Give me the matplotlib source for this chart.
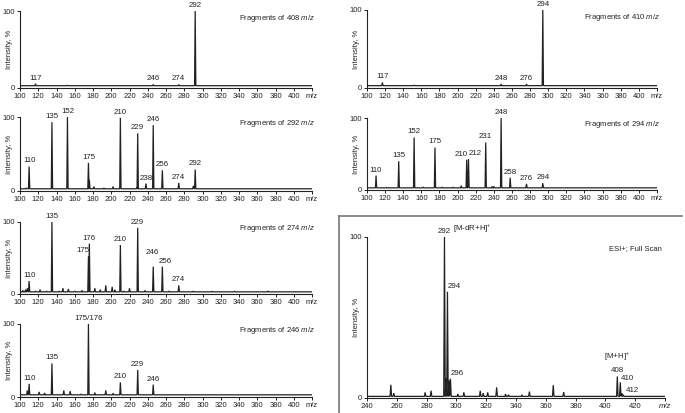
import matplotlib
matplotlib.use('Agg')
import matplotlib.pyplot as plt
from matplotlib.lines import Line2D

plt.rcParams['font.family'] = ['Liberation Sans', 'DejaVu Sans']
plt.rcParams['mathtext.fontset'] = 'custom'
plt.rcParams['mathtext.rm'] = 'Liberation Sans'
plt.rcParams['mathtext.it'] = 'Liberation Sans:italic'

# ---------------- data ----------------
# Fragments of 408 m/z
f408_mz = [117, 152, 246, 274, 292]
f408_int = [5.5, 3.5, 4.5, 4.5, 100]
# Fragments of 410 m/z
f410_mz = [117, 152, 248, 276, 294]
f410_int = [7, 3.5, 5, 5, 100]
# Fragments of 292 m/z
f292_mz = [107, 110, 135, 152, 175, 176, 181, 192, 202, 210, 228, 229, 238, 246, 256, 274, 290, 292]
f292_int = [4, 33, 93, 100, 38, 15, 6, 4, 6, 99, 5, 78, 10, 89, 28, 11, 7, 29]
# Fragments of 294 m/z
f294_mz = [110, 122, 135, 152, 162, 175, 183, 195, 204, 210, 212, 231, 238, 240, 248, 258, 276, 294]
f294_int = [20, 3.5, 40, 73, 4, 59, 4, 4, 6, 42, 43, 66, 5, 5, 100, 17, 8.5, 9.5]
# Fragments of 274 m/z
f274_mz = [103, 106, 108, 110, 117, 122, 129, 135, 143, 147, 153, 160, 168, 175, 176, 182, 188,
           194, 201, 204, 210, 214, 220, 229, 237, 246, 256, 263, 274, 290, 310, 335, 372]
f274_int = [5, 6, 8, 18, 4, 6, 4, 100, 4, 8, 7, 4, 5, 52, 70, 8, 6,
            12, 10, 6, 68, 4, 8, 92, 5, 38, 38, 4, 12, 4, 3.8, 3.8, 4.2]
# Fragments of 246 m/z
f246_mz = [108, 110, 121, 127, 135, 148, 155, 167, 175, 182, 194, 202, 210, 229, 246]
f246_int = [9, 18, 7, 5.5, 46, 9, 8, 4, 100, 6, 9, 5, 20, 37, 17]
# ESI+ full scan
full_mz = [256, 258, 279, 283, 292, 293, 294, 295, 296, 301, 305, 316, 318, 321, 327, 333, 335,
           344, 349, 365, 372, 408, 410, 411, 412]
full_int = [8.2, 3, 3.5, 4.5, 100, 12, 66, 11, 12, 2.5, 3.5, 4.5, 3, 3.5, 6.6, 2.5, 2,
            2, 4, 8, 3.7, 13.4, 9.7, 3, 2]

frag_ticks = list(range(100, 421, 20))
full_ticks = list(range(240, 441, 20))

# ---------------- helpers ----------------
W, H = 685, 413
fig = plt.figure(figsize=(W / 100, H / 100), dpi=100)
LC = '#222222'


def rect(x0, ytop, x1, ybot):
    return [x0 / W, 1 - ybot / H, (x1 - x0) / W, (ybot - ytop) / H]


def trace(mz, inten, xmin, xmax, base, w):
    pairs = sorted(zip(mz, inten))
    xs, ys = [xmin], [base]
    for m, h in pairs:
        xs += [m - w, m, m + w]
        ys += [base, h, base]
    xs.append(xmax)
    ys.append(base)
    return xs, ys


def setup(ax, ticks, last_label_italic=False):
    ax.set_xlim(ticks[0], ticks[-1])
    ax.set_ylim(0, 100)
    for s in ('top', 'right'):
        ax.spines[s].set_visible(False)
    for s in ('left', 'bottom'):
        ax.spines[s].set_linewidth(0.8)
        ax.spines[s].set_color(LC)
    ax.set_xticks(ticks)
    labels = [str(t) for t in ticks[:-1]] + ['m/z']
    ax.set_xticklabels(labels)
    if last_label_italic:
        ax.get_xticklabels()[-1].set_style('italic')
    ax.set_yticks([0, 100])
    ax.tick_params(axis='both', labelsize=5.5, length=2.5, width=0.7, pad=1, colors=LC)
    ax.set_ylabel('Intensity, %', fontsize=5.5, color=LC)
    wpx = ax.get_position().width * W
    ax.yaxis.set_label_coords(-7 / wpx, 0.5)


def draw(ax, mz, inten, ticks, base, w, title, labels, title_x=1.01):
    xs, ys = trace(mz, inten, ticks[0], ticks[-1], base, w)
    ax.plot(xs, ys, color=LC, lw=0.9, solid_joinstyle='miter')
    if title:
        ax.text(title_x, 0.98, title, transform=ax.transAxes, ha='right', va='top',
                fontsize=5.5, color=LC)
    lookup = dict(zip(mz, inten))
    for m, txt, ha, dx, dy in labels:
        ax.annotate(txt, (m, lookup[m]), xytext=(dx, dy), textcoords='offset points',
                    ha=ha, va='bottom', fontsize=5.7, color=LC, annotation_clip=False)


def std(ms):
    return [(m, str(m), 'center', 0, 1.5) for m in ms]


# ---------------- panels ----------------
ax1 = fig.add_axes(rect(20, 11, 312, 88))
setup(ax1, frag_ticks)
draw(ax1, f408_mz, f408_int, frag_ticks, 3, 0.7, r'Fragments of 408 $\mathit{m/z}$',
     std([117, 246, 274, 292]))

ax2 = fig.add_axes(rect(367, 10, 657, 88))
setup(ax2, frag_ticks)
draw(ax2, f410_mz, f410_int, frag_ticks, 3, 0.7, r'Fragments of 410 $\mathit{m/z}$',
     std([117, 248, 276, 294]))

ax3 = fig.add_axes(rect(20, 117, 312, 191))
setup(ax3, frag_ticks)
draw(ax3, f292_mz, f292_int, frag_ticks, 3, 0.7, r'Fragments of 292 $\mathit{m/z}$',
     std([110, 135, 152, 175, 210, 229, 238, 246, 256, 274, 292]))

ax4 = fig.add_axes(rect(367, 118, 657, 190))
setup(ax4, frag_ticks)
draw(ax4, f294_mz, f294_int, frag_ticks, 3, 0.7, r'Fragments of 294 $\mathit{m/z}$',
     std([110, 135, 152, 175, 231, 248, 258, 276, 294])
     + [(210, '210', 'right', 1, 1.5), (212, '212', 'left', 0, 1.5)])

ax5 = fig.add_axes(rect(20, 222, 312, 294))
setup(ax5, frag_ticks)
draw(ax5, f274_mz, f274_int, frag_ticks, 3, 0.7, r'Fragments of 274 $\mathit{m/z}$',
     std([110, 135, 176, 210, 229, 274])
     + [(175, '175', 'right', 0.5, 1.5), (246, '246', 'center', -1, 8),
        (256, '256', 'center', 2, 1.5)])

ax6 = fig.add_axes(rect(20, 324, 312, 397))
setup(ax6, frag_ticks)
draw(ax6, f246_mz, f246_int, frag_ticks, 3, 0.7, r'Fragments of 246 $\mathit{m/z}$',
     std([110, 135, 210, 229, 246]) + [(175, '175/176', 'center', 0, 1.5)])

ax7 = fig.add_axes(rect(367, 237, 665, 398))
setup(ax7, full_ticks, last_label_italic=True)
draw(ax7, full_mz, full_int, full_ticks, 1, 0.5, None,
     [(292, '292', 'center', 0, 1.5), (292, r'[M-dR+H]$^{+}$', 'left', 6, 1.5),
      (294, '294', 'left', 0.5, 1), (296, '296', 'left', 0.5, 1),
      (408, '408', 'center', 0, 1.5), (408, r'[M+H]$^{+}$', 'center', 0, 10),
      (410, '410', 'left', 0.5, 0.5), (412, '412', 'left', 1.5, 0.5)])
ax7.text(0.99, 0.95, 'ESI+; Full Scan', transform=ax7.transAxes, ha='right', va='top',
         fontsize=5.5, color=LC)

# box around the full scan panel
bx, by, bx2 = 339 / W, 1 - 216 / H, 682 / W
fig.add_artist(Line2D([bx, bx], [0, by], transform=fig.transFigure, color='#777777', lw=1.2))
fig.add_artist(Line2D([bx, bx2], [by, by], transform=fig.transFigure, color='#777777', lw=1.2))

fig.savefig('out.png', dpi=100)
